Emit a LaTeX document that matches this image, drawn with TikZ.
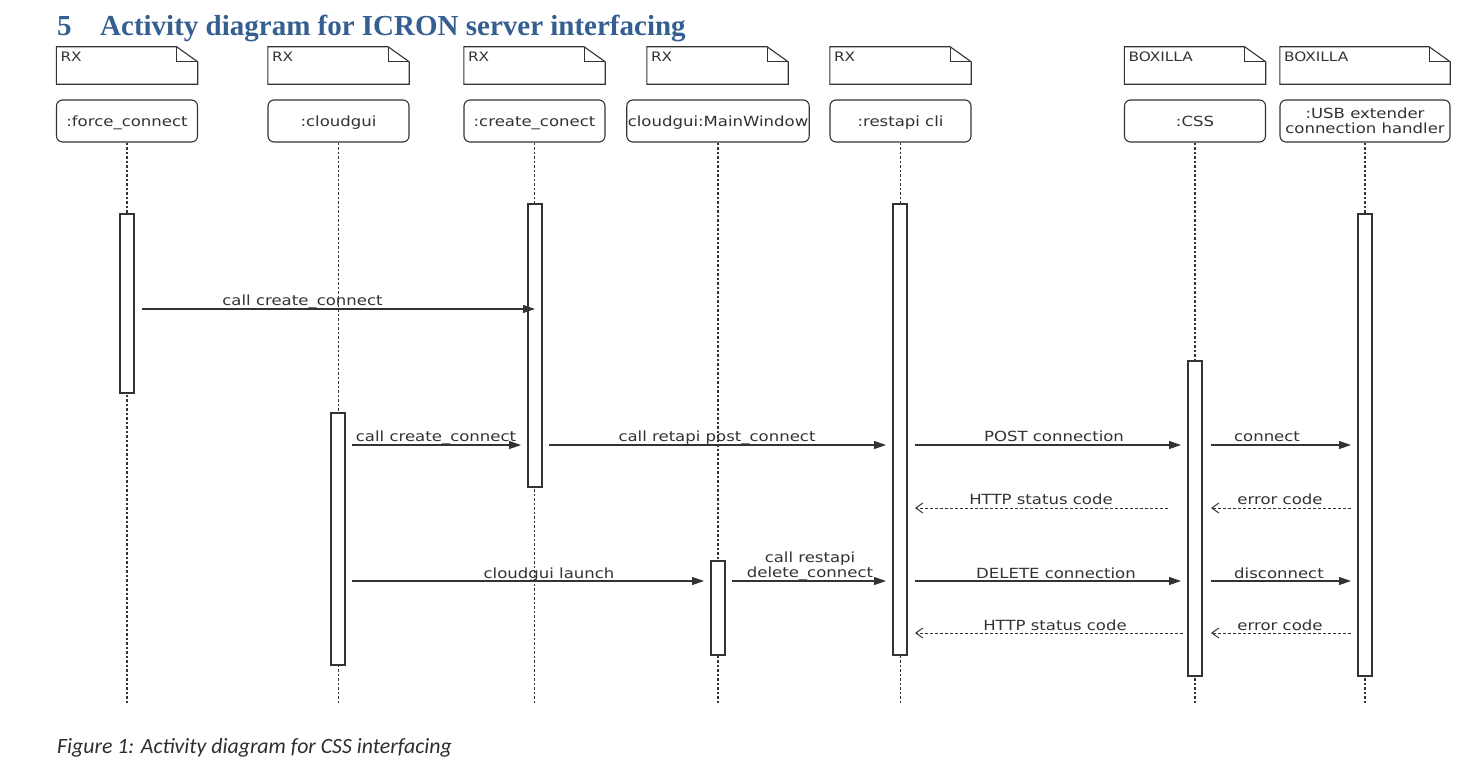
\documentclass[tikz,border=0pt]{standalone}
\usepackage{fontspec}
\usetikzlibrary{arrows.meta}
\newfontfamily\dgfont[FakeStretch=1.18]{DejaVu Sans}
\newfontfamily\ttlfont{Liberation Serif}
\newfontfamily\capfont{Carlito}
\definecolor{hblue}{HTML}{365F91}
\definecolor{ink}{HTML}{333333}
\tikzset{
  notebox/.style={minimum width=141pt, minimum height=37pt, inner sep=0pt, draw=none},
  noteline/.style={draw=ink, line width=1.1pt, line join=miter},
  notetxt/.style={anchor=north west, inner sep=0pt, text=ink, font=\dgfont\fontsize{13}{15}\selectfont},
  obj/.style={draw=ink, line width=1.1pt, rounded corners=6pt, minimum width=141pt, minimum height=42pt,
    inner sep=1pt, font=\dgfont\fontsize{14}{15}\selectfont, text=ink, align=center, fill=white},
  objone/.style={obj, text height=14pt, text depth=3pt},
  actbar/.style={draw=ink, fill=white, line width=1.1pt, minimum width=14pt, inner sep=0pt},
  life/.style={draw=ink, line width=1.1pt, dash pattern=on 2.5pt off 2pt},
  msg/.style={draw=ink, line width=1.2pt, -{Triangle[length=12pt,width=8pt]}},
  ret/.style={draw=ink, line width=1pt, dash pattern=on 3pt off 2pt, -{Straight Barb[length=7pt,width=10pt]}},
  lbl/.style={font=\dgfont\fontsize{14}{15}\selectfont, text=ink, inner sep=0pt, anchor=base, align=center}
}
\begin{document}
\begin{tikzpicture}[x=1pt,y=-1pt]
\useasboundingbox[fill=white] (0,0) rectangle (1480,768);

% title
\node[anchor=base west, inner sep=0pt, text=hblue, font=\ttlfont\bfseries\fontsize{29}{32}\selectfont] (tnum) at (57,36) {5};
\node[anchor=base west, inner sep=0pt, text=hblue, font=\ttlfont\bfseries\fontsize{29}{32}\selectfont] (ttl) at (100,36) {Activity diagram for ICRON server interfacing};

% notes
\node[notebox] (n1) at (127,65.5) {};
\node[notebox] (n2) at (338.5,65.5) {};
\node[notebox] (n3) at (534.5,65.5) {};
\node[notebox] (n4) at (717.5,65.5) {};
\node[notebox] (n5) at (900.5,65.5) {};
\node[notebox] (n6) at (1195,65.5) {};
\node[notebox, minimum width=170pt] (n7) at (1365,65.5) {};
\foreach \n/\t in {n1/RX,n2/RX,n3/RX,n4/RX,n5/RX,n6/BOXILLA,n7/BOXILLA}{
  \draw[noteline] (\n.north west) -- ([xshift=-21pt]\n.north east) -- ([yshift=-15pt]\n.north east)
     -- (\n.south east) -- (\n.south west) -- cycle;
  \draw[noteline] ([xshift=-21pt]\n.north east) -- ([xshift=-21pt,yshift=-15pt]\n.north east) -- ([yshift=-15pt]\n.north east);
  \node[notetxt] at ([xshift=4pt,yshift=-5pt]\n.north west) {\t};
}

% object boxes
\node[objone] (o1) at (127,121) {:force\_connect};
\node[objone] (o2) at (338.5,121) {:cloudgui};
\node[objone] (o3) at (534.5,121) {:create\_conect};
\node[objone, minimum width=182pt] (o4) at (718,121) {cloudgui:MainWindow};
\node[objone] (o5) at (900.5,121) {:restapi cli};
\node[objone] (o6) at (1195,121) {:CSS};
\node[obj, minimum width=170pt] (o7) at (1365,121) {:USB extender\\connection handler};

% lifelines
\coordinate (bottom) at (0,705);
\foreach \o in {o1,o2,o3,o4,o5,o6,o7}{
  \draw[life] (\o.south) -- (\o.south |- bottom);
}

% activation bars
\node[actbar, minimum height=179pt] (b1) at (127,303.5) {};
\node[actbar, minimum height=252pt] (b2) at (338,539) {};
\node[actbar, minimum height=283pt] (b3) at (535,345.5) {};
\node[actbar, minimum height=94pt]  (b4) at (718,608) {};
\node[actbar, minimum height=451pt] (b5) at (900,429.5) {};
\node[actbar, minimum height=315pt] (b6) at (1195,518.5) {};
\node[actbar, minimum height=462pt] (b7) at (1365,445) {};

% message end points
\coordinate (m1s) at (142,309);  \coordinate (m1e) at (535,309);
\coordinate (m2s) at (352,445);  \coordinate (m2e) at (521,445);
\coordinate (m3s) at (549,445);  \coordinate (m3e) at (886,445);
\coordinate (m4s) at (915,445);  \coordinate (m4e) at (1181,445);
\coordinate (m5s) at (1211,445); \coordinate (m5e) at (1351,445);
\coordinate (m6s) at (1168,508); \coordinate (m6e) at (915,508);
\coordinate (m7s) at (1351,508); \coordinate (m7e) at (1211,508);
\coordinate (m8s) at (352,581);  \coordinate (m8e) at (704,581);
\coordinate (m9s) at (732,581);  \coordinate (m9e) at (886,581);
\coordinate (m10s) at (915,581); \coordinate (m10e) at (1181,581);
\coordinate (m11s) at (1211,581);\coordinate (m11e) at (1351,581);
\coordinate (m12s) at (1183,633);\coordinate (m12e) at (915,633);
\coordinate (m13s) at (1351,633);\coordinate (m13e) at (1211,633);

\draw[msg] (m1s) -- (m1e);
\draw[msg] (m2s) -- (m2e);
\draw[msg] (m3s) -- (m3e);
\draw[msg] (m4s) -- (m4e);
\draw[msg] (m5s) -- (m5e);
\draw[ret] (m6s) -- (m6e);
\draw[ret] (m7s) -- (m7e);
\draw[msg] (m8s) -- (m8e);
\draw[msg] (m9s) -- (m9e);
\draw[msg] (m10s) -- (m10e);
\draw[msg] (m11s) -- (m11e);
\draw[ret] (m12s) -- (m12e);
\draw[ret] (m13s) -- (m13e);

% labels
\node[lbl] (l1) at (302.5,305) {call create\_connect};
\node[lbl] (l2) at (436,441) {call create\_connect};
\node[lbl] (l3) at (717,441) {call retapi post\_connect};
\node[lbl] (l4) at (1054,441) {POST connection};
\node[lbl] (l5) at (1267,441) {connect};
\node[lbl] (l6) at (1041,504) {HTTP status code};
\node[lbl] (l7) at (1280,504) {error code};
\node[lbl] (l8) at (549,578) {cloudgui launch};
\node[lbl] (l9a) at (810,562) {call restapi};
\node[lbl] (l9b) at (810,577) {delete\_connect};
\node[lbl] (l10) at (1056,578) {DELETE connection};
\node[lbl] (l11) at (1279,578) {disconnect};
\node[lbl] (l12) at (1055,630) {HTTP status code};
\node[lbl] (l13) at (1280,630) {error code};

% caption
\node[anchor=base west, inner sep=0pt, text=ink!90!black, font=\capfont\itshape\fontsize{21.8}{23}\selectfont] (cap) at (57,753) {Figure 1: Activity diagram for CSS interfacing};
\end{tikzpicture}
\end{document}
